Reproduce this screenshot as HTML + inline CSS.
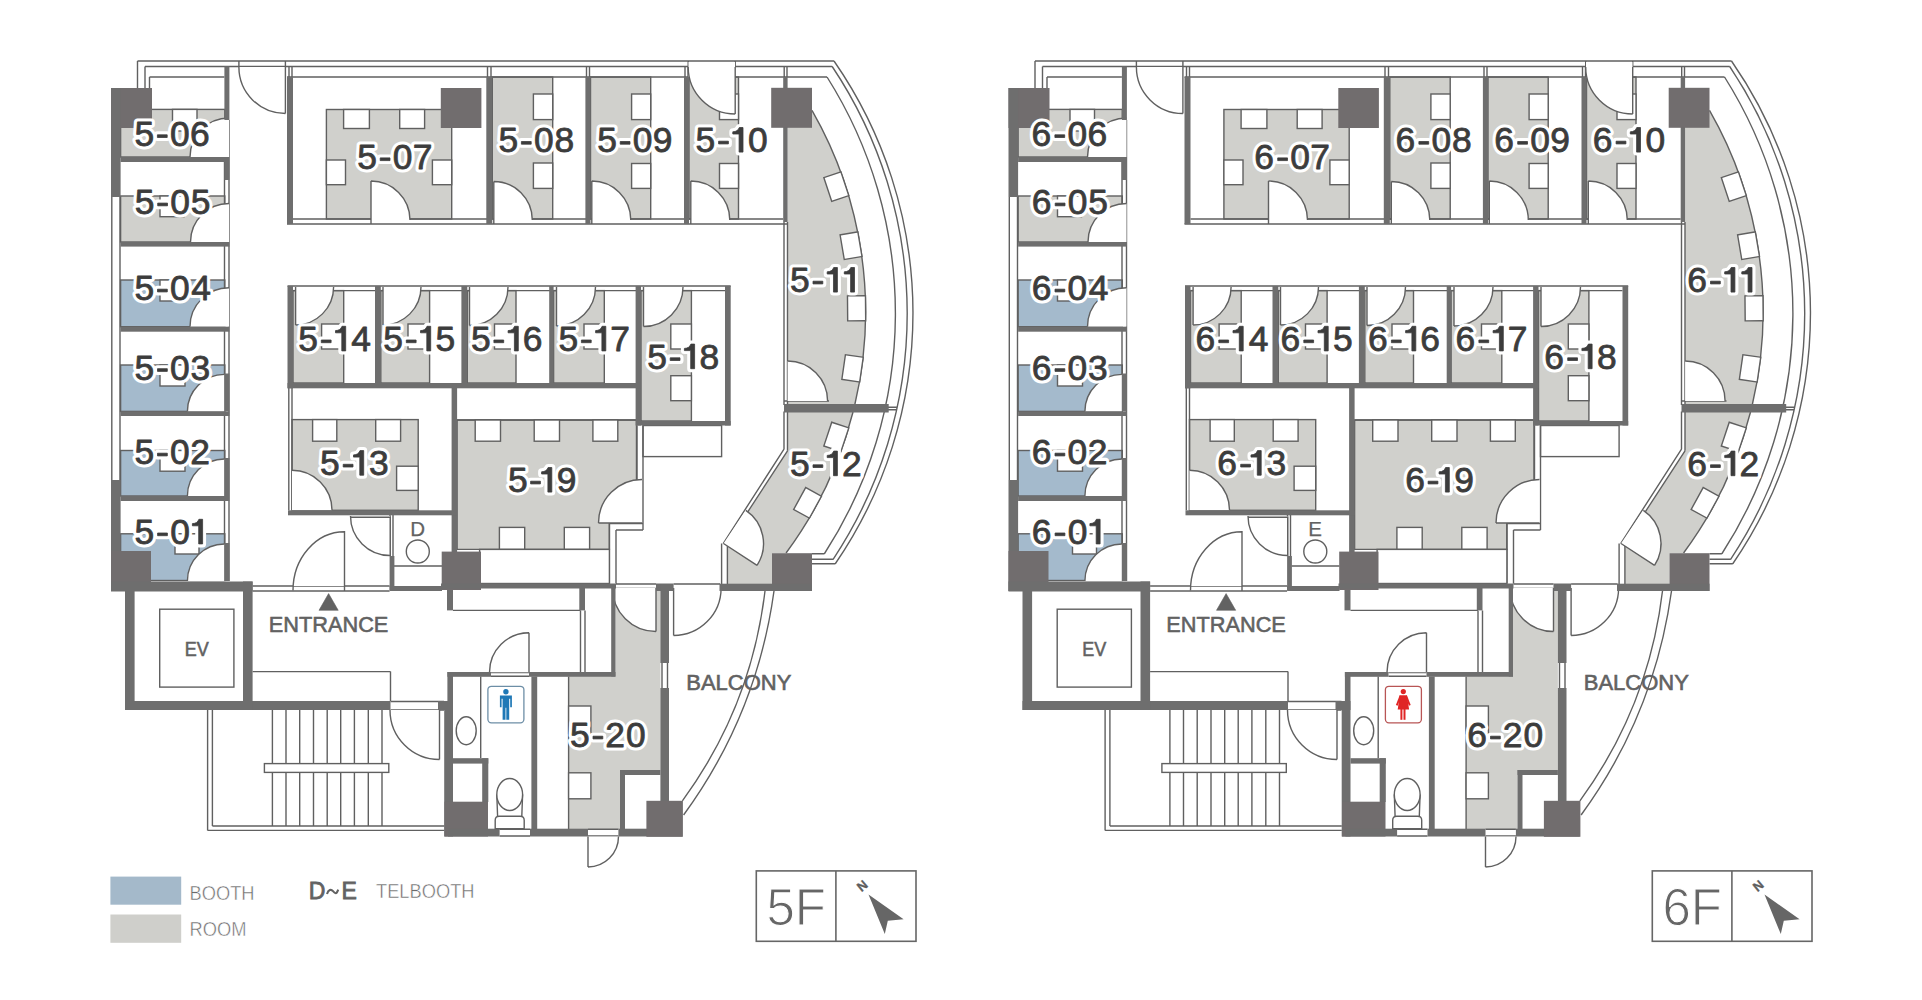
<!DOCTYPE html>
<html><head><meta charset="utf-8"><style>
html,body{margin:0;padding:0;background:#fff;}
svg{display:block;}
text{font-family:"Liberation Sans",sans-serif;}
</style></head><body>
<svg width="1922" height="1000" viewBox="0 0 1922 1000">
<rect width="1922" height="1000" fill="#fff"/>
<g id="plan"><rect x="120.6" y="109.4" width="104.2" height="47.6" fill="#d0d0cc" stroke="#606060" stroke-width="1.4"/>
<rect x="120.6" y="196" width="104.2" height="46" fill="#d0d0cc" stroke="#606060" stroke-width="1.4"/>
<rect x="120.6" y="280" width="104.2" height="46.7" fill="#a4bacc" stroke="#606060" stroke-width="1.4"/>
<rect x="120.6" y="365" width="104.2" height="46.4" fill="#a4bacc" stroke="#606060" stroke-width="1.4"/>
<rect x="120.6" y="450.5" width="104.2" height="45.5" fill="#a4bacc" stroke="#606060" stroke-width="1.4"/>
<rect x="120.6" y="533.8" width="104.2" height="46.7" fill="#a4bacc" stroke="#606060" stroke-width="1.4"/>
<rect x="326.4" y="109.5" width="125.3" height="109.5" fill="#d0d0cc" stroke="#606060" stroke-width="1.4"/>
<rect x="492.3" y="77" width="60.4" height="142" fill="#d0d0cc" stroke="#606060" stroke-width="1.4"/>
<rect x="590.5" y="77" width="60.2" height="142" fill="#d0d0cc" stroke="#606060" stroke-width="1.4"/>
<rect x="689" y="77" width="49.5" height="142" fill="#d0d0cc" stroke="#606060" stroke-width="1.4"/>
<path d="M787.6 110.3L812 110.3A405.5 405.5 0 0 1 854.74 405L787.6 405Z" fill="#d0d0cc"/>
<path d="M787.6 412L853.03 412A405.5 405.5 0 0 1 786.06 553L772 553L772 584L727.4 584L727.4 545L787.5 450.8Z" fill="#d0d0cc"/>
<rect x="293" y="290.6" width="50.7" height="92.4" fill="#d0d0cc" stroke="#606060" stroke-width="1.4"/>
<rect x="380.8" y="290.6" width="48.8" height="92.4" fill="#d0d0cc" stroke="#606060" stroke-width="1.4"/>
<rect x="467.3" y="290.6" width="48.7" height="92.4" fill="#d0d0cc" stroke="#606060" stroke-width="1.4"/>
<rect x="553.6" y="290.6" width="50.7" height="92.4" fill="#d0d0cc" stroke="#606060" stroke-width="1.4"/>
<rect x="641" y="290.6" width="50.4" height="130.4" fill="#d0d0cc" stroke="#606060" stroke-width="1.4"/>
<rect x="292" y="419.6" width="126.2" height="90.7" fill="#d0d0cc" stroke="#606060" stroke-width="1.4"/>
<path d="M457.1 420L636.5 420L636.5 523L609.4 523L609.4 549.4L457.1 549.4Z" fill="#d0d0cc" stroke="#606060" stroke-width="1.4"/>
<rect x="643" y="425.5" width="78.6" height="31.1" fill="none" stroke="#606060" stroke-width="1.4"/>
<rect x="159.7" y="609.2" width="74.2" height="77.9" fill="none" stroke="#606060" stroke-width="1.4"/>
<path d="M615.5 588L660.4 588L660.4 770L620 770L620 829L568.6 829L568.6 676.5L615.5 676.5Z" fill="#d0d0cc"/>
<path d="M137.5 61L834 61M137.5 61L137.5 88M145 66.5L832.2 66.5M145 66.5L145 88M149.5 77L224.4 77M149.5 77L149.5 88M287 77L827 77M289 66.5L289 77M292 66.5L292 77M487.5 66.5L487.5 77M491 66.5L491 77M586.5 66.5L586.5 77M589.5 66.5L589.5 77M685 66.5L685 77M688 66.5L688 77M784.2 66.5L784.2 77M787 66.5L787 77M834 61A442.6 442.6 0 0 1 835.29 563.75M835.29 563.75L812 563.75M832.19 66.5A444.5 444.5 0 0 1 833.12 559.3M833.12 559.3L812 559.3M827.04 77A442.6 442.6 0 0 1 824.39 553.75M824.39 553.75L812 553.75M765 591A443.7 443.7 0 0 1 682.4 800.8M774 591A494.5 494.5 0 0 1 683.6 815M111.8 197L111.8 480M120 197L120 480M224.5 120L224.5 581M229 120L229 581M285.4 61L285.4 67M238.9 61L238.9 67M293 219L783.2 219M287 224L787.6 224M371 219L371 224M493.8 219L493.8 224M591.8 219L591.8 224M690.8 219L690.8 224M735.2 61L735.2 67M688.2 61.5L688.2 67M784 222L784 405M787.5 222L787.5 405M812 110.3A405.5 405.5 0 0 1 854.74 405M853.03 412A405.5 405.5 0 0 1 786.06 553M888 407.3L897.2 407.3M888 409.7L897.2 409.7M784 401L829 401M784 411.5L784 449.2M787.5 411.5L787.5 450.8M784 449.2L723.2 543.6M787.5 450.8L746.4 514M721.6 543.6L721.6 584M727.4 545L727.4 584M287.5 286L730.7 286M293 290.6L725 290.6M288.8 388L288.8 510.3M292 388L292 510.3M390 515L390 556M393 515L393 556M394 566L442 566M457 420L636 420M637 425.5L637 523M643 425.5L643 523M609.4 523.5L643 523.5M643 523L643 530M616 530L643 530M609.4 523.5L609.4 583.5M616 530L616 583.5M616 584L656 584M616 588.5L656 588.5M673.6 584L720 584M673.6 591L720 591M252.6 586L389.6 586M252.6 591L389.6 591M252.6 671.6L390.5 671.6M390.5 671.6L390.5 701M390.5 701.5L444 701.5M390.5 710L444 710M453 610.4L580.5 610.4M580.5 610.4L580.5 672M585 610.4L585 672M207.6 710L207.6 830.4M212.4 710L212.4 826M212.4 826L444.3 826M207.6 830.4L444.3 830.4M272.4 710L272.4 826M286 710L286 826M299.7 710L299.7 826M313.5 710L313.5 826M327.2 710L327.2 826M340.7 710L340.7 826M354.4 710L354.4 826M368.3 710L368.3 826M382 710L382 826M491 672.6L529 672.6M491 676.3L529 676.3M480.7 676.5L480.7 758.3M568.6 676.5L568.6 829M499.6 829.2L530 829.2M499.6 836L530 836M588 829.2L618.4 829.2M588 836L618.4 836M662 663L662 688M667.5 663L667.5 688" fill="none" stroke="#606060" stroke-width="1.4"/>
<g fill="#fff" stroke="#606060" stroke-width="1.4"><rect x="172.5" y="109.4" width="24.5" height="21.6"/><rect x="160" y="196" width="24" height="20.7"/><rect x="160" y="280" width="25" height="21"/><rect x="160" y="365" width="25" height="21"/><rect x="160" y="450.5" width="25" height="20.7"/><rect x="175" y="533.8" width="24" height="20.2"/><rect x="343.6" y="109.5" width="25.8" height="19"/><rect x="399.7" y="109.5" width="24.9" height="19"/><rect x="326.4" y="160" width="19.1" height="24.7"/><rect x="432.4" y="160" width="19.3" height="24.7"/><rect x="533.4" y="94" width="19.3" height="25.6"/><rect x="533.4" y="163" width="19.3" height="25.4"/><rect x="631.6" y="94" width="19.1" height="25.6"/><rect x="631.6" y="163.5" width="19.1" height="24.9"/><rect x="719.5" y="94" width="19" height="25.6"/><rect x="719.5" y="163.5" width="19" height="24.9"/><rect x="-9" y="-12.5" width="18" height="25" transform="translate(836.33 186.65) rotate(-18.4)"/><rect x="-9" y="-12.5" width="18" height="25" transform="translate(851.05 245.68) rotate(-9.6)"/><rect x="-9" y="-12.5" width="18" height="25" transform="translate(856.58 308.34) rotate(-0.5)"/><rect x="-9" y="-12.5" width="18" height="25" transform="translate(852.55 368.35) rotate(8.2)"/><rect x="-9" y="-12.5" width="18" height="25" transform="translate(836.33 436.95) rotate(18.4)"/><rect x="-9" y="-12.5" width="18" height="25" transform="translate(807.56 502.82) rotate(28.8)"/><rect x="321.6" y="324" width="22.1" height="25"/><rect x="408" y="324" width="21.6" height="25"/><rect x="494.5" y="324" width="21.5" height="25"/><rect x="584" y="324" width="20.3" height="25"/><rect x="670.8" y="324" width="20.6" height="25"/><rect x="670.8" y="375.7" width="20.6" height="25"/><rect x="312.6" y="419.6" width="24.2" height="21.6"/><rect x="375.7" y="419.6" width="24.9" height="21.6"/><rect x="396.6" y="466.2" width="21.6" height="24.2"/><rect x="475.2" y="420" width="25.3" height="21.2"/><rect x="534.2" y="420" width="25.3" height="21.2"/><rect x="592.9" y="420" width="24.9" height="21.2"/><rect x="499.4" y="527.4" width="25.3" height="22"/><rect x="564.3" y="527.4" width="25.3" height="22"/><rect x="479.6" y="549.4" width="129.8" height="34.1"/><rect x="264.4" y="763.6" width="124.4" height="8.8"/><rect x="568.6" y="706" width="22.3" height="27.6"/><rect x="568.6" y="772.8" width="22.3" height="26"/></g>
<path d="M229 157L190 157A39 39 0 0 1 229 118Z" fill="#fff"/>
<path d="M190 157A39 39 0 0 1 229 118" fill="none" stroke="#606060" stroke-width="1.4"/>
<path d="M229 242L190.5 242A38.5 38.5 0 0 1 229 203.5Z" fill="#fff"/>
<path d="M190.5 242A38.5 38.5 0 0 1 229 203.5" fill="none" stroke="#606060" stroke-width="1.4"/>
<path d="M229 326.7L190 326.7A39 39 0 0 1 229 287.7Z" fill="#fff"/>
<path d="M190 326.7A39 39 0 0 1 229 287.7" fill="none" stroke="#606060" stroke-width="1.4"/>
<path d="M224.4 411.4L187.4 411.4A37 37 0 0 1 224.4 374.4Z" fill="#fff"/>
<path d="M187.4 411.4A37 37 0 0 1 224.4 374.4" fill="none" stroke="#606060" stroke-width="1.4"/>
<path d="M224.4 496L187.4 496A37 37 0 0 1 224.4 459Z" fill="#fff"/>
<path d="M187.4 496A37 37 0 0 1 224.4 459" fill="none" stroke="#606060" stroke-width="1.4"/>
<path d="M224.4 581L187.4 581A37 37 0 0 1 224.4 544Z" fill="#fff"/>
<path d="M187.4 581A37 37 0 0 1 224.4 544" fill="none" stroke="#606060" stroke-width="1.4"/>
<path d="M285.4 67L285.4 113.5A46.5 46.5 0 0 1 238.9 67Z" fill="#fff"/>
<path d="M285.4 113.5A46.5 46.5 0 0 1 238.9 67M285.4 67L285.4 113.5" fill="none" stroke="#606060" stroke-width="1.4"/>
<path d="M371 220L371 181A39 39 0 0 1 410 220Z" fill="#fff"/>
<path d="M371 181A39 39 0 0 1 410 220M371 220L371 181" fill="none" stroke="#606060" stroke-width="1.4"/>
<path d="M493.8 220L493.8 181.5A38.5 38.5 0 0 1 532.3 220Z" fill="#fff"/>
<path d="M493.8 181.5A38.5 38.5 0 0 1 532.3 220M493.8 220L493.8 181.5" fill="none" stroke="#606060" stroke-width="1.4"/>
<path d="M591.8 220L591.8 181A39 39 0 0 1 630.8 220Z" fill="#fff"/>
<path d="M591.8 181A39 39 0 0 1 630.8 220M591.8 220L591.8 181" fill="none" stroke="#606060" stroke-width="1.4"/>
<path d="M690.8 220L690.8 181A39 39 0 0 1 729.8 220Z" fill="#fff"/>
<path d="M690.8 181A39 39 0 0 1 729.8 220M690.8 220L690.8 181" fill="none" stroke="#606060" stroke-width="1.4"/>
<rect x="688.5" y="62" width="46.5" height="16" fill="#fff"/>
<path d="M735.2 67L735.2 114A47 47 0 0 1 688.2 67Z" fill="#fff"/>
<path d="M735.2 114A47 47 0 0 1 688.2 67M735.2 67L735.2 114" fill="none" stroke="#606060" stroke-width="1.4"/>
<path d="M787.6 401L787.6 361A40 40 0 0 1 827.6 401Z" fill="#fff"/>
<path d="M787.6 361A40 40 0 0 1 827.6 401" fill="none" stroke="#606060" stroke-width="1.4"/>
<path d="M723.5 543.5L745.87 510.34A40 40 0 0 1 757.05 565.29Z" fill="#fff"/>
<path d="M745.87 510.34A40 40 0 0 1 757.05 565.29M723.5 543.5L757.05 565.29" fill="none" stroke="#606060" stroke-width="1.4"/>
<path d="M295.6 287L333.6 287A38 38 0 0 1 295.6 325Z" fill="#fff"/>
<path d="M333.6 287A38 38 0 0 1 295.6 325M295.6 287L295.6 325" fill="none" stroke="#606060" stroke-width="1.4"/>
<path d="M383 287L421 287A38 38 0 0 1 383 325Z" fill="#fff"/>
<path d="M421 287A38 38 0 0 1 383 325M383 287L383 325" fill="none" stroke="#606060" stroke-width="1.4"/>
<path d="M469.5 287L508 287A38.5 38.5 0 0 1 469.5 325.5Z" fill="#fff"/>
<path d="M508 287A38.5 38.5 0 0 1 469.5 325.5M469.5 287L469.5 325.5" fill="none" stroke="#606060" stroke-width="1.4"/>
<path d="M556.5 287L595.5 287A39 39 0 0 1 556.5 326Z" fill="#fff"/>
<path d="M595.5 287A39 39 0 0 1 556.5 326M556.5 287L556.5 326" fill="none" stroke="#606060" stroke-width="1.4"/>
<path d="M643.5 287L683 287A39.5 39.5 0 0 1 643.5 326.5Z" fill="#fff"/>
<path d="M683 287A39.5 39.5 0 0 1 643.5 326.5M643.5 287L643.5 326.5" fill="none" stroke="#606060" stroke-width="1.4"/>
<path d="M292 510.3L292 470.3A40 40 0 0 1 332 510.3Z" fill="#fff"/>
<path d="M292 470.3A40 40 0 0 1 332 510.3" fill="none" stroke="#606060" stroke-width="1.4"/>
<path d="M390 516L390 555.5A39.5 39.5 0 0 1 350.5 516Z" fill="#fff"/>
<path d="M390 555.5A39.5 39.5 0 0 1 350.5 516" fill="none" stroke="#606060" stroke-width="1.4"/>
<path d="M642 523L598.5 523A43.5 43.5 0 0 1 642 479.5Z" fill="#fff"/>
<path d="M598.5 523A43.5 43.5 0 0 1 642 479.5M642 523L598.5 523" fill="none" stroke="#606060" stroke-width="1.4"/>
<path d="M344.5 586L293 586A51.5 58.7 0 0 1 344.5 531.8Z" fill="#fff"/>
<path d="M439.5 710L439.5 759.5A49.5 49.5 0 0 1 390 710Z" fill="#fff"/>
<path d="M439.5 759.5A49.5 49.5 0 0 1 390 710M439.5 710L439.5 759.5" fill="none" stroke="#606060" stroke-width="1.4"/>
<path d="M529 672.2L489.5 672.2A39.5 39.5 0 0 1 529 632.7Z" fill="#fff"/>
<path d="M489.5 672.2A39.5 39.5 0 0 1 529 632.7M529 672.2L529 632.7" fill="none" stroke="#606060" stroke-width="1.4"/>
<path d="M656 588L656 631.5A43.5 43.5 0 0 1 612.5 588Z" fill="#fff"/>
<path d="M656 631.5A43.5 43.5 0 0 1 612.5 588M656 588L656 631.5" fill="none" stroke="#606060" stroke-width="1.4"/>
<path d="M673.6 588L721.1 588A47.5 47.5 0 0 1 673.6 635.5Z" fill="#fff"/>
<path d="M721.1 588A47.5 47.5 0 0 1 673.6 635.5M673.6 588L673.6 635.5" fill="none" stroke="#606060" stroke-width="1.4"/>
<path d="M588 836.5L618.5 836.5A30.5 30.5 0 0 1 588 867Z" fill="#fff"/>
<path d="M618.5 836.5A30.5 30.5 0 0 1 588 867M588 836.5L588 867" fill="none" stroke="#606060" stroke-width="1.4"/>
<rect x="111" y="88" width="41" height="40" fill="#716d6e"/>
<rect x="111" y="88" width="9.6" height="109" fill="#6e6e6e"/>
<rect x="111" y="480" width="9.6" height="111" fill="#6e6e6e"/>
<rect x="111" y="551" width="40" height="40" fill="#716d6e"/>
<rect x="224.4" y="66.5" width="5" height="53.5" fill="#6e6e6e"/>
<rect x="224.4" y="162" width="5" height="18" fill="#6e6e6e"/>
<rect x="224.4" y="373.5" width="5" height="37.9" fill="#6e6e6e"/>
<rect x="224.4" y="458" width="5" height="38" fill="#6e6e6e"/>
<rect x="224.4" y="543" width="5" height="38" fill="#6e6e6e"/>
<rect x="120.6" y="157" width="108.8" height="5" fill="#6e6e6e"/>
<rect x="120.6" y="242" width="108.8" height="4.6" fill="#6e6e6e"/>
<rect x="120.6" y="326.7" width="108.8" height="5" fill="#6e6e6e"/>
<rect x="120.6" y="411.4" width="108.8" height="4.6" fill="#6e6e6e"/>
<rect x="120.6" y="496" width="108.8" height="5" fill="#6e6e6e"/>
<rect x="111" y="581.5" width="141.6" height="10" fill="#6e6e6e"/>
<rect x="287" y="77" width="6" height="147" fill="#6e6e6e"/>
<rect x="486.3" y="77" width="6" height="147" fill="#6e6e6e"/>
<rect x="585.4" y="77" width="5.1" height="147" fill="#6e6e6e"/>
<rect x="684" y="77" width="5" height="147" fill="#6e6e6e"/>
<rect x="783.2" y="77" width="4.4" height="145" fill="#6e6e6e"/>
<rect x="440.8" y="88" width="40.6" height="40" fill="#716d6e"/>
<rect x="771.2" y="87.8" width="40.8" height="40" fill="#716d6e"/>
<rect x="784" y="404" width="104.7" height="8.5" fill="#6e6e6e"/>
<rect x="772" y="553.2" width="40" height="37.8" fill="#716d6e"/>
<rect x="287.5" y="286" width="5.5" height="102.3" fill="#6e6e6e"/>
<rect x="375" y="286" width="5.8" height="97" fill="#6e6e6e"/>
<rect x="461.4" y="286" width="5.9" height="97" fill="#6e6e6e"/>
<rect x="549.2" y="286" width="4.4" height="97" fill="#6e6e6e"/>
<rect x="635.6" y="286" width="5.4" height="139.5" fill="#6e6e6e"/>
<rect x="725" y="286" width="5.7" height="139.5" fill="#6e6e6e"/>
<rect x="287.5" y="383" width="353.5" height="5.3" fill="#6e6e6e"/>
<rect x="636" y="421" width="94.7" height="4.5" fill="#6e6e6e"/>
<rect x="451.6" y="388" width="5.5" height="202" fill="#6e6e6e"/>
<rect x="288" y="510.3" width="169" height="5" fill="#6e6e6e"/>
<rect x="389.6" y="556" width="4.8" height="34" fill="#6e6e6e"/>
<rect x="389.6" y="586" width="52.4" height="5" fill="#6e6e6e"/>
<rect x="441.7" y="551.6" width="39.3" height="38.4" fill="#716d6e"/>
<rect x="441" y="583.5" width="175" height="5" fill="#6e6e6e"/>
<rect x="656" y="583.5" width="17.6" height="7.5" fill="#6e6e6e"/>
<rect x="719.5" y="583.7" width="92.5" height="7.3" fill="#6e6e6e"/>
<rect x="125" y="591" width="9.6" height="119" fill="#6e6e6e"/>
<rect x="125" y="701" width="265.5" height="9" fill="#6e6e6e"/>
<rect x="243" y="581.5" width="9.6" height="128.5" fill="#6e6e6e"/>
<rect x="447" y="590" width="6" height="20.4" fill="#6e6e6e"/>
<rect x="579.3" y="588" width="5.7" height="22.4" fill="#6e6e6e"/>
<rect x="611.2" y="588" width="4.3" height="88.5" fill="#6e6e6e"/>
<rect x="447.4" y="672" width="5.6" height="38" fill="#6e6e6e"/>
<rect x="444.2" y="710" width="8.8" height="126.5" fill="#6e6e6e"/>
<rect x="438" y="701" width="15" height="9" fill="#6e6e6e"/>
<rect x="447.4" y="672" width="43.6" height="4.8" fill="#6e6e6e"/>
<rect x="529" y="672" width="86.5" height="4.8" fill="#6e6e6e"/>
<rect x="531.4" y="676.5" width="5.8" height="152.5" fill="#6e6e6e"/>
<rect x="453" y="758.2" width="35.3" height="5.4" fill="#6e6e6e"/>
<rect x="482.2" y="758.2" width="6.1" height="43.8" fill="#6e6e6e"/>
<rect x="444.5" y="801.7" width="43.5" height="34.8" fill="#716d6e"/>
<rect x="448" y="828.7" width="51.6" height="7.8" fill="#6e6e6e"/>
<rect x="530" y="828.7" width="58" height="7.8" fill="#6e6e6e"/>
<rect x="618.4" y="828.7" width="63.6" height="7.8" fill="#6e6e6e"/>
<rect x="620" y="770" width="5" height="59" fill="#6e6e6e"/>
<rect x="620" y="770" width="40.4" height="5" fill="#6e6e6e"/>
<rect x="660.4" y="584" width="8.6" height="79" fill="#6e6e6e"/>
<rect x="660.4" y="688" width="8.6" height="113" fill="#6e6e6e"/>
<rect x="646.4" y="800.8" width="36.5" height="36" fill="#716d6e"/>
<circle cx="417.8" cy="551.5" r="11.5" fill="none" stroke="#606060" stroke-width="1.4"/>
<path d="M350.5 517.3H390.2V556" fill="none" stroke="#606060" stroke-width="1.4"/>
<path d="M293 590.5A51.5 58.7 0 0 1 344.5 531.8L344.5 591" fill="none" stroke="#606060" stroke-width="1.4"/>
<ellipse cx="466.2" cy="730.7" rx="10" ry="14" fill="none" stroke="#606060" stroke-width="1.4"/>
<path d="M496.8 794.5L497.6 816.5M522.6 794.5L521.8 816.5" fill="none" stroke="#606060" stroke-width="1.4"/>
<ellipse cx="509.7" cy="794.5" rx="12.9" ry="16" fill="#fff" stroke="#606060" stroke-width="1.4"/>
<path d="M495.2 828.7V820.2Q495.2 816.2 499.2 816.2H520.2Q524.2 816.2 524.2 820.2V828.7Z" fill="#fff" stroke="#606060" stroke-width="1.4"/></g>
<use href="#plan" x="897.5"/>
<g font-family="Liberation Sans" font-size="35.4" fill="#fff" stroke="#fff" stroke-width="7" stroke-linejoin="round"><text x="134.38" y="145.7">5</text><rect x="157.4" y="134.8" width="9.8" height="2.7"/><text x="169.98" y="145.7">0</text><text x="190.03" y="145.7">6</text><text x="134.68" y="214">5</text><rect x="157.7" y="203.1" width="9.8" height="2.7"/><text x="170.28" y="214">0</text><text x="190.68" y="214">5</text><text x="134.48" y="300.1">5</text><rect x="157.5" y="289.2" width="9.8" height="2.7"/><text x="170.08" y="300.1">0</text><text x="191.19" y="300.1">4</text><text x="134.48" y="379.6">5</text><rect x="157.5" y="368.7" width="9.8" height="2.7"/><text x="170.08" y="379.6">0</text><text x="190.48" y="379.6">3</text><text x="134.48" y="464.1">5</text><rect x="157.5" y="453.2" width="9.8" height="2.7"/><text x="170.08" y="464.1">0</text><text x="190.13" y="464.1">2</text><text x="134.58" y="543.9">5</text><rect x="157.6" y="533" width="9.8" height="2.7"/><text x="170.18" y="543.9">0</text><path transform="translate(192 518.9)" d="M10.6 0.4V25H6.7V6.9H0.4V4.7C3.8 4.7 6 3 6.9 0.4Z"/><text x="357.18" y="168.8">5</text><rect x="380.2" y="157.9" width="9.8" height="2.7"/><text x="392.78" y="168.8">0</text><text x="412.83" y="168.8">7</text><text x="498.38" y="152.4">5</text><rect x="521.4" y="141.5" width="9.8" height="2.7"/><text x="533.98" y="152.4">0</text><text x="554.38" y="152.4">8</text><text x="597.18" y="152.4">5</text><rect x="620.2" y="141.5" width="9.8" height="2.7"/><text x="632.78" y="152.4">0</text><text x="652.83" y="152.4">9</text><text x="695.58" y="152.1">5</text><rect x="718.6" y="141.2" width="9.8" height="2.7"/><path transform="translate(732.4 127.1)" d="M10.6 0.4V25H6.7V6.9H0.4V4.7C3.8 4.7 6 3 6.9 0.4Z"/><text x="747.88" y="152.1">0</text><text x="789.98" y="292.1">5</text><rect x="813" y="281.2" width="9.8" height="2.7"/><path transform="translate(826.8 267.1)" d="M10.6 0.4V25H6.7V6.9H0.4V4.7C3.8 4.7 6 3 6.9 0.4Z"/><path transform="translate(843.9 267.1)" d="M10.6 0.4V25H6.7V6.9H0.4V4.7C3.8 4.7 6 3 6.9 0.4Z"/><text x="789.98" y="475.7">5</text><rect x="813" y="464.8" width="9.8" height="2.7"/><path transform="translate(826.8 450.7)" d="M10.6 0.4V25H6.7V6.9H0.4V4.7C3.8 4.7 6 3 6.9 0.4Z"/><text x="841.93" y="475.7">2</text><text x="319.98" y="475.2">5</text><rect x="343.2" y="464.3" width="9.8" height="2.7"/><path transform="translate(353.1 450.2)" d="M10.6 0.4V25H6.7V6.9H0.4V4.7C3.8 4.7 6 3 6.9 0.4Z"/><text x="368.88" y="475.2">3</text><text x="298.28" y="350.9">5</text><rect x="321.3" y="340" width="9.8" height="2.7"/><path transform="translate(335.1 325.9)" d="M10.6 0.4V25H6.7V6.9H0.4V4.7C3.8 4.7 6 3 6.9 0.4Z"/><text x="351.29" y="350.9">4</text><text x="383.28" y="350.9">5</text><rect x="406.3" y="340" width="9.8" height="2.7"/><path transform="translate(420.1 325.9)" d="M10.6 0.4V25H6.7V6.9H0.4V4.7C3.8 4.7 6 3 6.9 0.4Z"/><text x="435.58" y="350.9">5</text><text x="470.88" y="350.9">5</text><rect x="493.9" y="340" width="9.8" height="2.7"/><path transform="translate(507.7 325.9)" d="M10.6 0.4V25H6.7V6.9H0.4V4.7C3.8 4.7 6 3 6.9 0.4Z"/><text x="522.83" y="350.9">6</text><text x="558.38" y="350.9">5</text><rect x="581.4" y="340" width="9.8" height="2.7"/><path transform="translate(595.2 325.9)" d="M10.6 0.4V25H6.7V6.9H0.4V4.7C3.8 4.7 6 3 6.9 0.4Z"/><text x="610.33" y="350.9">7</text><text x="647.18" y="368.7">5</text><rect x="670.2" y="357.8" width="9.8" height="2.7"/><path transform="translate(684 343.7)" d="M10.6 0.4V25H6.7V6.9H0.4V4.7C3.8 4.7 6 3 6.9 0.4Z"/><text x="699.48" y="368.7">8</text><text x="508.08" y="492.1">5</text><rect x="530.6" y="481.2" width="9.8" height="2.7"/><path transform="translate(541.2 467.1)" d="M10.6 0.4V25H6.7V6.9H0.4V4.7C3.8 4.7 6 3 6.9 0.4Z"/><text x="556.63" y="492.1">9</text><text x="569.98" y="747.1">5</text><rect x="593" y="736.2" width="9.8" height="2.7"/><text x="605.23" y="747.1">2</text><text x="625.98" y="747.1">0</text><text x="1031.53" y="145.7">6</text><rect x="1054.9" y="134.8" width="9.8" height="2.7"/><text x="1067.48" y="145.7">0</text><text x="1087.53" y="145.7">6</text><text x="1031.83" y="214">6</text><rect x="1055.2" y="203.1" width="9.8" height="2.7"/><text x="1067.78" y="214">0</text><text x="1088.18" y="214">5</text><text x="1031.63" y="300.1">6</text><rect x="1055" y="289.2" width="9.8" height="2.7"/><text x="1067.58" y="300.1">0</text><text x="1088.69" y="300.1">4</text><text x="1031.63" y="379.6">6</text><rect x="1055" y="368.7" width="9.8" height="2.7"/><text x="1067.58" y="379.6">0</text><text x="1087.98" y="379.6">3</text><text x="1031.63" y="464.1">6</text><rect x="1055" y="453.2" width="9.8" height="2.7"/><text x="1067.58" y="464.1">0</text><text x="1087.63" y="464.1">2</text><text x="1031.73" y="543.9">6</text><rect x="1055.1" y="533" width="9.8" height="2.7"/><text x="1067.68" y="543.9">0</text><path transform="translate(1089.5 518.9)" d="M10.6 0.4V25H6.7V6.9H0.4V4.7C3.8 4.7 6 3 6.9 0.4Z"/><text x="1254.33" y="168.8">6</text><rect x="1277.7" y="157.9" width="9.8" height="2.7"/><text x="1290.28" y="168.8">0</text><text x="1310.33" y="168.8">7</text><text x="1395.53" y="152.4">6</text><rect x="1418.9" y="141.5" width="9.8" height="2.7"/><text x="1431.48" y="152.4">0</text><text x="1451.88" y="152.4">8</text><text x="1494.33" y="152.4">6</text><rect x="1517.7" y="141.5" width="9.8" height="2.7"/><text x="1530.28" y="152.4">0</text><text x="1550.33" y="152.4">9</text><text x="1592.73" y="152.1">6</text><rect x="1616.1" y="141.2" width="9.8" height="2.7"/><path transform="translate(1629.9 127.1)" d="M10.6 0.4V25H6.7V6.9H0.4V4.7C3.8 4.7 6 3 6.9 0.4Z"/><text x="1645.38" y="152.1">0</text><text x="1687.13" y="292.1">6</text><rect x="1710.5" y="281.2" width="9.8" height="2.7"/><path transform="translate(1724.3 267.1)" d="M10.6 0.4V25H6.7V6.9H0.4V4.7C3.8 4.7 6 3 6.9 0.4Z"/><path transform="translate(1741.4 267.1)" d="M10.6 0.4V25H6.7V6.9H0.4V4.7C3.8 4.7 6 3 6.9 0.4Z"/><text x="1687.13" y="475.7">6</text><rect x="1710.5" y="464.8" width="9.8" height="2.7"/><path transform="translate(1724.3 450.7)" d="M10.6 0.4V25H6.7V6.9H0.4V4.7C3.8 4.7 6 3 6.9 0.4Z"/><text x="1739.43" y="475.7">2</text><text x="1217.13" y="475.2">6</text><rect x="1240.7" y="464.3" width="9.8" height="2.7"/><path transform="translate(1250.6 450.2)" d="M10.6 0.4V25H6.7V6.9H0.4V4.7C3.8 4.7 6 3 6.9 0.4Z"/><text x="1266.38" y="475.2">3</text><text x="1195.43" y="350.9">6</text><rect x="1218.8" y="340" width="9.8" height="2.7"/><path transform="translate(1232.6 325.9)" d="M10.6 0.4V25H6.7V6.9H0.4V4.7C3.8 4.7 6 3 6.9 0.4Z"/><text x="1248.79" y="350.9">4</text><text x="1280.43" y="350.9">6</text><rect x="1303.8" y="340" width="9.8" height="2.7"/><path transform="translate(1317.6 325.9)" d="M10.6 0.4V25H6.7V6.9H0.4V4.7C3.8 4.7 6 3 6.9 0.4Z"/><text x="1333.08" y="350.9">5</text><text x="1368.03" y="350.9">6</text><rect x="1391.4" y="340" width="9.8" height="2.7"/><path transform="translate(1405.2 325.9)" d="M10.6 0.4V25H6.7V6.9H0.4V4.7C3.8 4.7 6 3 6.9 0.4Z"/><text x="1420.33" y="350.9">6</text><text x="1455.53" y="350.9">6</text><rect x="1478.9" y="340" width="9.8" height="2.7"/><path transform="translate(1492.7 325.9)" d="M10.6 0.4V25H6.7V6.9H0.4V4.7C3.8 4.7 6 3 6.9 0.4Z"/><text x="1507.83" y="350.9">7</text><text x="1544.33" y="368.7">6</text><rect x="1567.7" y="357.8" width="9.8" height="2.7"/><path transform="translate(1581.5 343.7)" d="M10.6 0.4V25H6.7V6.9H0.4V4.7C3.8 4.7 6 3 6.9 0.4Z"/><text x="1596.98" y="368.7">8</text><text x="1405.23" y="492.1">6</text><rect x="1428.1" y="481.2" width="9.8" height="2.7"/><path transform="translate(1438.7 467.1)" d="M10.6 0.4V25H6.7V6.9H0.4V4.7C3.8 4.7 6 3 6.9 0.4Z"/><text x="1454.13" y="492.1">9</text><text x="1467.13" y="747.1">6</text><rect x="1490.5" y="736.2" width="9.8" height="2.7"/><text x="1502.73" y="747.1">2</text><text x="1523.48" y="747.1">0</text></g>
<g font-family="Liberation Sans" font-size="35.4" fill="#3c3c3c" stroke="#3c3c3c" stroke-width="0.8" stroke-linejoin="round"><text x="134.38" y="145.7">5</text><rect x="157.4" y="134.8" width="9.8" height="2.7"/><text x="169.98" y="145.7">0</text><text x="190.03" y="145.7">6</text><text x="134.68" y="214">5</text><rect x="157.7" y="203.1" width="9.8" height="2.7"/><text x="170.28" y="214">0</text><text x="190.68" y="214">5</text><text x="134.48" y="300.1">5</text><rect x="157.5" y="289.2" width="9.8" height="2.7"/><text x="170.08" y="300.1">0</text><text x="191.19" y="300.1">4</text><text x="134.48" y="379.6">5</text><rect x="157.5" y="368.7" width="9.8" height="2.7"/><text x="170.08" y="379.6">0</text><text x="190.48" y="379.6">3</text><text x="134.48" y="464.1">5</text><rect x="157.5" y="453.2" width="9.8" height="2.7"/><text x="170.08" y="464.1">0</text><text x="190.13" y="464.1">2</text><text x="134.58" y="543.9">5</text><rect x="157.6" y="533" width="9.8" height="2.7"/><text x="170.18" y="543.9">0</text><path transform="translate(192 518.9)" d="M10.6 0.4V25H6.7V6.9H0.4V4.7C3.8 4.7 6 3 6.9 0.4Z"/><text x="357.18" y="168.8">5</text><rect x="380.2" y="157.9" width="9.8" height="2.7"/><text x="392.78" y="168.8">0</text><text x="412.83" y="168.8">7</text><text x="498.38" y="152.4">5</text><rect x="521.4" y="141.5" width="9.8" height="2.7"/><text x="533.98" y="152.4">0</text><text x="554.38" y="152.4">8</text><text x="597.18" y="152.4">5</text><rect x="620.2" y="141.5" width="9.8" height="2.7"/><text x="632.78" y="152.4">0</text><text x="652.83" y="152.4">9</text><text x="695.58" y="152.1">5</text><rect x="718.6" y="141.2" width="9.8" height="2.7"/><path transform="translate(732.4 127.1)" d="M10.6 0.4V25H6.7V6.9H0.4V4.7C3.8 4.7 6 3 6.9 0.4Z"/><text x="747.88" y="152.1">0</text><text x="789.98" y="292.1">5</text><rect x="813" y="281.2" width="9.8" height="2.7"/><path transform="translate(826.8 267.1)" d="M10.6 0.4V25H6.7V6.9H0.4V4.7C3.8 4.7 6 3 6.9 0.4Z"/><path transform="translate(843.9 267.1)" d="M10.6 0.4V25H6.7V6.9H0.4V4.7C3.8 4.7 6 3 6.9 0.4Z"/><text x="789.98" y="475.7">5</text><rect x="813" y="464.8" width="9.8" height="2.7"/><path transform="translate(826.8 450.7)" d="M10.6 0.4V25H6.7V6.9H0.4V4.7C3.8 4.7 6 3 6.9 0.4Z"/><text x="841.93" y="475.7">2</text><text x="319.98" y="475.2">5</text><rect x="343.2" y="464.3" width="9.8" height="2.7"/><path transform="translate(353.1 450.2)" d="M10.6 0.4V25H6.7V6.9H0.4V4.7C3.8 4.7 6 3 6.9 0.4Z"/><text x="368.88" y="475.2">3</text><text x="298.28" y="350.9">5</text><rect x="321.3" y="340" width="9.8" height="2.7"/><path transform="translate(335.1 325.9)" d="M10.6 0.4V25H6.7V6.9H0.4V4.7C3.8 4.7 6 3 6.9 0.4Z"/><text x="351.29" y="350.9">4</text><text x="383.28" y="350.9">5</text><rect x="406.3" y="340" width="9.8" height="2.7"/><path transform="translate(420.1 325.9)" d="M10.6 0.4V25H6.7V6.9H0.4V4.7C3.8 4.7 6 3 6.9 0.4Z"/><text x="435.58" y="350.9">5</text><text x="470.88" y="350.9">5</text><rect x="493.9" y="340" width="9.8" height="2.7"/><path transform="translate(507.7 325.9)" d="M10.6 0.4V25H6.7V6.9H0.4V4.7C3.8 4.7 6 3 6.9 0.4Z"/><text x="522.83" y="350.9">6</text><text x="558.38" y="350.9">5</text><rect x="581.4" y="340" width="9.8" height="2.7"/><path transform="translate(595.2 325.9)" d="M10.6 0.4V25H6.7V6.9H0.4V4.7C3.8 4.7 6 3 6.9 0.4Z"/><text x="610.33" y="350.9">7</text><text x="647.18" y="368.7">5</text><rect x="670.2" y="357.8" width="9.8" height="2.7"/><path transform="translate(684 343.7)" d="M10.6 0.4V25H6.7V6.9H0.4V4.7C3.8 4.7 6 3 6.9 0.4Z"/><text x="699.48" y="368.7">8</text><text x="508.08" y="492.1">5</text><rect x="530.6" y="481.2" width="9.8" height="2.7"/><path transform="translate(541.2 467.1)" d="M10.6 0.4V25H6.7V6.9H0.4V4.7C3.8 4.7 6 3 6.9 0.4Z"/><text x="556.63" y="492.1">9</text><text x="569.98" y="747.1">5</text><rect x="593" y="736.2" width="9.8" height="2.7"/><text x="605.23" y="747.1">2</text><text x="625.98" y="747.1">0</text><text x="1031.53" y="145.7">6</text><rect x="1054.9" y="134.8" width="9.8" height="2.7"/><text x="1067.48" y="145.7">0</text><text x="1087.53" y="145.7">6</text><text x="1031.83" y="214">6</text><rect x="1055.2" y="203.1" width="9.8" height="2.7"/><text x="1067.78" y="214">0</text><text x="1088.18" y="214">5</text><text x="1031.63" y="300.1">6</text><rect x="1055" y="289.2" width="9.8" height="2.7"/><text x="1067.58" y="300.1">0</text><text x="1088.69" y="300.1">4</text><text x="1031.63" y="379.6">6</text><rect x="1055" y="368.7" width="9.8" height="2.7"/><text x="1067.58" y="379.6">0</text><text x="1087.98" y="379.6">3</text><text x="1031.63" y="464.1">6</text><rect x="1055" y="453.2" width="9.8" height="2.7"/><text x="1067.58" y="464.1">0</text><text x="1087.63" y="464.1">2</text><text x="1031.73" y="543.9">6</text><rect x="1055.1" y="533" width="9.8" height="2.7"/><text x="1067.68" y="543.9">0</text><path transform="translate(1089.5 518.9)" d="M10.6 0.4V25H6.7V6.9H0.4V4.7C3.8 4.7 6 3 6.9 0.4Z"/><text x="1254.33" y="168.8">6</text><rect x="1277.7" y="157.9" width="9.8" height="2.7"/><text x="1290.28" y="168.8">0</text><text x="1310.33" y="168.8">7</text><text x="1395.53" y="152.4">6</text><rect x="1418.9" y="141.5" width="9.8" height="2.7"/><text x="1431.48" y="152.4">0</text><text x="1451.88" y="152.4">8</text><text x="1494.33" y="152.4">6</text><rect x="1517.7" y="141.5" width="9.8" height="2.7"/><text x="1530.28" y="152.4">0</text><text x="1550.33" y="152.4">9</text><text x="1592.73" y="152.1">6</text><rect x="1616.1" y="141.2" width="9.8" height="2.7"/><path transform="translate(1629.9 127.1)" d="M10.6 0.4V25H6.7V6.9H0.4V4.7C3.8 4.7 6 3 6.9 0.4Z"/><text x="1645.38" y="152.1">0</text><text x="1687.13" y="292.1">6</text><rect x="1710.5" y="281.2" width="9.8" height="2.7"/><path transform="translate(1724.3 267.1)" d="M10.6 0.4V25H6.7V6.9H0.4V4.7C3.8 4.7 6 3 6.9 0.4Z"/><path transform="translate(1741.4 267.1)" d="M10.6 0.4V25H6.7V6.9H0.4V4.7C3.8 4.7 6 3 6.9 0.4Z"/><text x="1687.13" y="475.7">6</text><rect x="1710.5" y="464.8" width="9.8" height="2.7"/><path transform="translate(1724.3 450.7)" d="M10.6 0.4V25H6.7V6.9H0.4V4.7C3.8 4.7 6 3 6.9 0.4Z"/><text x="1739.43" y="475.7">2</text><text x="1217.13" y="475.2">6</text><rect x="1240.7" y="464.3" width="9.8" height="2.7"/><path transform="translate(1250.6 450.2)" d="M10.6 0.4V25H6.7V6.9H0.4V4.7C3.8 4.7 6 3 6.9 0.4Z"/><text x="1266.38" y="475.2">3</text><text x="1195.43" y="350.9">6</text><rect x="1218.8" y="340" width="9.8" height="2.7"/><path transform="translate(1232.6 325.9)" d="M10.6 0.4V25H6.7V6.9H0.4V4.7C3.8 4.7 6 3 6.9 0.4Z"/><text x="1248.79" y="350.9">4</text><text x="1280.43" y="350.9">6</text><rect x="1303.8" y="340" width="9.8" height="2.7"/><path transform="translate(1317.6 325.9)" d="M10.6 0.4V25H6.7V6.9H0.4V4.7C3.8 4.7 6 3 6.9 0.4Z"/><text x="1333.08" y="350.9">5</text><text x="1368.03" y="350.9">6</text><rect x="1391.4" y="340" width="9.8" height="2.7"/><path transform="translate(1405.2 325.9)" d="M10.6 0.4V25H6.7V6.9H0.4V4.7C3.8 4.7 6 3 6.9 0.4Z"/><text x="1420.33" y="350.9">6</text><text x="1455.53" y="350.9">6</text><rect x="1478.9" y="340" width="9.8" height="2.7"/><path transform="translate(1492.7 325.9)" d="M10.6 0.4V25H6.7V6.9H0.4V4.7C3.8 4.7 6 3 6.9 0.4Z"/><text x="1507.83" y="350.9">7</text><text x="1544.33" y="368.7">6</text><rect x="1567.7" y="357.8" width="9.8" height="2.7"/><path transform="translate(1581.5 343.7)" d="M10.6 0.4V25H6.7V6.9H0.4V4.7C3.8 4.7 6 3 6.9 0.4Z"/><text x="1596.98" y="368.7">8</text><text x="1405.23" y="492.1">6</text><rect x="1428.1" y="481.2" width="9.8" height="2.7"/><path transform="translate(1438.7 467.1)" d="M10.6 0.4V25H6.7V6.9H0.4V4.7C3.8 4.7 6 3 6.9 0.4Z"/><text x="1454.13" y="492.1">9</text><text x="1467.13" y="747.1">6</text><rect x="1490.5" y="736.2" width="9.8" height="2.7"/><text x="1502.73" y="747.1">2</text><text x="1523.48" y="747.1">0</text></g>
<g fill="#626262" stroke="#626262" stroke-width="0.6" font-family="Liberation Sans" transform="translate(0 0)"><text x="196.7" y="656" font-size="21" text-anchor="middle" textLength="24" lengthAdjust="spacingAndGlyphs">EV</text><text x="328.6" y="632" font-size="22.6" text-anchor="middle" textLength="119.5" lengthAdjust="spacingAndGlyphs">ENTRANCE</text><path d="M328.6 593.6L338.2 610.3L319 610.3Z"/><text x="738.8" y="690" font-size="21.8" text-anchor="middle" textLength="105" lengthAdjust="spacingAndGlyphs">BALCONY</text><text x="417.7" y="535.5" font-size="20.5" stroke-width="0.25" text-anchor="middle">D</text></g>
<g fill="#626262" stroke="#626262" stroke-width="0.6" font-family="Liberation Sans" transform="translate(897.5 0)"><text x="196.7" y="656" font-size="21" text-anchor="middle" textLength="24" lengthAdjust="spacingAndGlyphs">EV</text><text x="328.6" y="632" font-size="22.6" text-anchor="middle" textLength="119.5" lengthAdjust="spacingAndGlyphs">ENTRANCE</text><path d="M328.6 593.6L338.2 610.3L319 610.3Z"/><text x="738.8" y="690" font-size="21.8" text-anchor="middle" textLength="105" lengthAdjust="spacingAndGlyphs">BALCONY</text><text x="417.7" y="535.5" font-size="20.5" stroke-width="0.25" text-anchor="middle">E</text></g>
<rect x="487.9" y="686.3" width="36" height="36.5" rx="3.5" fill="#fff" stroke="#6d8ea6" stroke-width="1.3"/><circle cx="505.9" cy="691.7" r="2.7" fill="#1f78b6"/><path d="M499.9 695.4H511.9V707.2H510.2V698.8H509.2V719.8H506.3V707.8H505.5V719.8H502.6V698.8H501.6V707.2H499.9Z" fill="#1f78b6"/>
<rect x="1385.4" y="686.3" width="36" height="36.5" rx="3.5" fill="#fff" stroke="#b85555" stroke-width="1.3"/><circle cx="1403.3" cy="691.6" r="2.6" fill="#e02525"/><path d="M1399.7 695.2H1406.9L1409.1 709.6H1397.7Z" fill="#e02525"/><path d="M1399.7 695.2L1401.1 696.4L1397.7 705.7L1395.9 705.1Z" fill="#e02525"/><path d="M1406.9 695.2L1405.5 696.4L1408.9 705.7L1410.7 705.1Z" fill="#e02525"/><path d="M1400.4 708.8H1402.4V719.8H1400.4Z" fill="#e02525"/><path d="M1403.5 708.8H1405.5V719.8H1403.5Z" fill="#e02525"/>
<rect x="110.4" y="876.6" width="70.8" height="28.1" fill="#a4b9ca"/>
<rect x="110.4" y="914.5" width="70.8" height="28.3" fill="#cfcfcb"/>
<g fill="#6a6a6a" stroke="#fff" stroke-width="0.5" font-family="Liberation Sans" font-size="20"><text x="189.5" y="899.5" textLength="65" lengthAdjust="spacingAndGlyphs">BOOTH</text><text x="189.5" y="936" textLength="57" lengthAdjust="spacingAndGlyphs">ROOM</text><text x="308.7" y="898.6" font-size="23" stroke="#626262" stroke-width="0.8" fill="#626262">D</text><text x="341.6" y="898.6" font-size="23" stroke="#626262" stroke-width="0.8" fill="#626262">E</text><path d="M327 894C328.5 889.5 331 888.8 333 891.2S336.5 894.8 338.2 889.6" fill="none" stroke="#626262" stroke-width="2.1"/><text x="376" y="898" textLength="98.5" lengthAdjust="spacingAndGlyphs">TELBOOTH</text></g>
<g transform="translate(0 0)"><rect x="756.3" y="870.9" width="159.7" height="70.4" fill="none" stroke="#666" stroke-width="1.6"/><path d="M835.9 870.9V941.3" stroke="#666" stroke-width="1.6"/><text x="766.5" y="925.2" font-family="Liberation Sans" font-size="51" fill="#666" stroke="#fff" stroke-width="1.1">5F</text><path d="M868.5 894.6L903.6 919.3L887.8 920.8L884.8 934.1Z" fill="#666"/><text x="0" y="0" font-family="Liberation Sans" font-weight="bold" font-size="13" fill="#5e5e5e" stroke="#5e5e5e" stroke-width="0.3" text-anchor="middle" transform="translate(865.2 889.3) rotate(-40)">N</text></g>
<g transform="translate(896 0)"><rect x="756.3" y="870.9" width="159.7" height="70.4" fill="none" stroke="#666" stroke-width="1.6"/><path d="M835.9 870.9V941.3" stroke="#666" stroke-width="1.6"/><text x="766.5" y="925.2" font-family="Liberation Sans" font-size="51" fill="#666" stroke="#fff" stroke-width="1.1">6F</text><path d="M868.5 894.6L903.6 919.3L887.8 920.8L884.8 934.1Z" fill="#666"/><text x="0" y="0" font-family="Liberation Sans" font-weight="bold" font-size="13" fill="#5e5e5e" stroke="#5e5e5e" stroke-width="0.3" text-anchor="middle" transform="translate(865.2 889.3) rotate(-40)">N</text></g>
</svg>
</body></html>
